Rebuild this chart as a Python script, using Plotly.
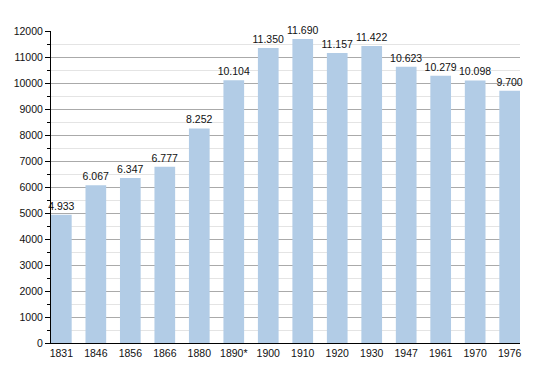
import plotly.graph_objects as go

years = ["1831", "1846", "1856", "1866", "1880", "1890*", "1900", "1910", "1920", "1930", "1947", "1961", "1970", "1976"]
population = [4933, 6067, 6347, 6777, 8252, 10104, 11350, 11690, 11157, 11422, 10623, 10279, 10098, 9700]
labels = ["4.933", "6.067", "6.347", "6.777", "8.252", "10.104", "11.350", "11.690", "11.157", "11.422", "10.623", "10.279", "10.098", "9.700"]

fig = go.Figure(go.Bar(
    x=years, y=population, text=labels, textposition="outside",
    constraintext="none", width=0.6,
    marker=dict(color="#b2cce6", line=dict(width=0)),
    textfont=dict(size=10.5, color="#111"), cliponaxis=False,
    hoverinfo="skip",
))
fig.update_layout(
    width=550, height=373,
    margin=dict(l=51, r=30, t=31, b=30, autoexpand=False),
    paper_bgcolor="white", plot_bgcolor="white",
    font=dict(family="Liberation Sans, Arial, sans-serif", size=10.5, color="#111"),
    showlegend=False,
)
fig.update_xaxes(showline=True, linecolor="black", linewidth=1, ticks="", showgrid=False,
                 range=[-0.3, 13.3], automargin=False, tickfont=dict(size=10.5))
fig.update_yaxes(range=[0, 12000], dtick=1000, tickformat="d", showline=True, linecolor="black", linewidth=1,
                 gridcolor="#aaaaaa", gridwidth=1, ticks="outside", ticklen=5, tickcolor="black",
                 minor=dict(dtick=500, showgrid=True, gridcolor="#e4e4e4", ticks="outside", ticklen=3, tickcolor="black"),
                 zeroline=False, automargin=False, tickfont=dict(size=10.5))
fig.write_html("out.html", config={"displayModeBar": False, "staticPlot": True},
               post_script="document.body.style.margin='0';document.body.style.overflow='hidden';")
